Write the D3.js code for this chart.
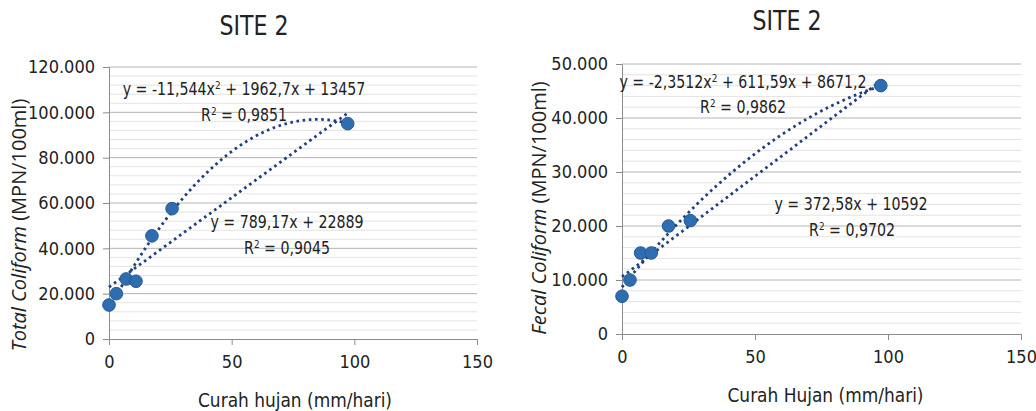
<!DOCTYPE html>
<html>
<head>
<meta charset="utf-8">
<script src="https://cdn.jsdelivr.net/npm/d3@7"></script>
<style>
  body { margin: 0; background: #fff; }
  svg text { font-family: "DejaVu Sans", sans-serif; fill: #222; }
</style>
</head>
<body>
<div class="chart-container"></div>
<script>
// Rainfall (x) shared by both panels
const rainfall = [0, 3, 7, 11, 17.5, 25.7, 97.3];
// Site 2 measurements
const totalColiform = [15000, 20000, 26500, 25500, 45500, 57500, 95000];
const fecalColiform = [7000, 10000, 15000, 15000, 20000, 21000, 46000];
// Trendline coefficients as printed on the chart
const totalPoly = [-11.544, 1962.7, 13457];
const totalLinear = [789.17, 22889];
const fecalPoly = [-2.3512, 611.59, 8671.2];
const fecalLinear = [372.58, 10592];
// Tick labels
const xTicks = [0, 50, 100, 150];
const totalTicks = [0, 20000, 40000, 60000, 80000, 100000, 120000];
const fecalTicks = [0, 10000, 20000, 30000, 40000, 50000];

const svg = d3.select('.chart-container')
    .append('svg')
    .attr('width', 1036)
    .attr('height', 411);

const fmt = v => v === 0 ? '0' : d3.format(',')(v).replace(/,/g, '.');

function drawPanel(cfg) {
    const x = d3.scaleLinear().domain([0, 150]).range([cfg.left, cfg.right]);
    const y = d3.scaleLinear().domain([0, cfg.yMax]).range([cfg.bottom, cfg.top]);
    const g = svg.append('g');

    // minor gridlines
    const minorStep = cfg.yStep / 5;
    const minor = d3.range(0, cfg.yMax + 1, minorStep).filter(v => v % cfg.yStep !== 0);
    g.selectAll('.minor').data(minor).enter().append('line')
        .attr('x1', x(0)).attr('x2', x(150))
        .attr('y1', d => y(d)).attr('y2', d => y(d))
        .attr('stroke', '#e3e3e3').attr('stroke-width', 1);

    // major gridlines
    g.selectAll('.major').data(cfg.yTicks.filter(v => v > 0)).enter().append('line')
        .attr('x1', x(0)).attr('x2', x(150))
        .attr('y1', d => y(d)).attr('y2', d => y(d))
        .attr('stroke', '#b4b4b4').attr('stroke-width', 1);

    // Y axis
    const yAxis = g.append('g')
        .attr('transform', `translate(${x(0)},0)`)
        .call(d3.axisLeft(y).tickValues(cfg.yTicks).tickFormat(fmt).tickSize(6).tickPadding(8));
    yAxis.select('.domain').attr('stroke', '#8c8c8c');
    yAxis.selectAll('line').attr('stroke', '#8c8c8c');
    yAxis.selectAll('text').style('font-size', '18px').style('font-stretch', 'condensed').attr('fill', '#222');

    // X axis
    const xAxis = g.append('g')
        .attr('transform', `translate(0,${y(0)})`)
        .call(d3.axisBottom(x).tickValues(xTicks).tickSize(6).tickPadding(10));
    xAxis.select('.domain').attr('stroke', '#8c8c8c');
    xAxis.selectAll('line').attr('stroke', '#8c8c8c');
    xAxis.selectAll('text').style('font-size', '18px').style('font-stretch', 'condensed').attr('fill', '#222');

    // trendlines
    const xs = d3.range(0, 1.0001, 0.01).map(t => d3.min(rainfall) + t * (d3.max(rainfall) - d3.min(rainfall)));
    const line = d3.line().x(d => x(d[0])).y(d => y(d[1]));
    const poly = xs.map(v => [v, cfg.poly[0] * v * v + cfg.poly[1] * v + cfg.poly[2]]);
    const lin = xs.map(v => [v, cfg.lin[0] * v + cfg.lin[1]]);
    [poly, lin].forEach(pts => {
        g.append('path').datum(pts)
            .attr('fill', 'none')
            .attr('stroke', '#1f3f7f')
            .attr('stroke-width', 2.8)
            .attr('stroke-dasharray', '2.6,3.6')
            .attr('d', line);
    });

    // points
    g.selectAll('.pt').data(rainfall.map((r, i) => [r, cfg.values[i]])).enter().append('circle')
        .attr('cx', d => x(d[0])).attr('cy', d => y(d[1]))
        .attr('r', 6.3)
        .attr('fill', '#2e6db0')
        .attr('stroke', '#245a93').attr('stroke-width', 1);

    // equations (narrow, like the original Calibri)
    cfg.labels.forEach(l => {
        const t = g.append('text')
            .attr('transform', `translate(${l.x},${l.y}) scale(0.81,1)`)
            .attr('text-anchor', 'middle')
            .style('font-size', '17.5px');
        l.parts.forEach(p => {
            const ts = t.append('tspan').text(p[0]);
            if (p[1]) ts.attr('dy', -6).style('font-size', '11px');
            else if (p[2]) ts.attr('dy', 6);
        });
    });

    // title
    g.append('text')
        .attr('transform', `translate(${cfg.titleX},${cfg.titleY}) scale(0.85,1)`)
        .attr('text-anchor', 'middle')
        .style('font-size', '26px')
        .text('SITE 2');

    // axis titles
    g.append('text')
        .attr('transform', `translate(${(cfg.left + cfg.right) / 2 + cfg.xTitleDx},${cfg.xTitleY}) scale(0.85,1)`)
        .attr('text-anchor', 'middle')
        .style('font-size', '20px')
        .text(cfg.xTitle);

    const yt = g.append('text')
        .attr('transform', `translate(${cfg.yTitleX},${cfg.yTitleY}) rotate(-90)`)
        .attr('text-anchor', 'middle')
        .style('font-family', '"Open Sans", sans-serif')
        .style('font-size', cfg.yTitleSize + 'px');
    yt.append('tspan').style('font-style', 'italic').text(cfg.yTitleItalic);
    yt.append('tspan').text(' (MPN/100ml)');
}

drawPanel({
    left: 109, right: 477, top: 67, bottom: 339,
    yMax: 120000, yStep: 20000, yTicks: totalTicks,
    values: totalColiform, poly: totalPoly, lin: totalLinear,
    labels: [
        { x: 244, y: 95, parts: [['y = -11,544x'], ['2', true], [' + 1962,7x + 13457', false, true]] },
        { x: 244, y: 121, parts: [['R'], ['2', true], [' = 0,9851', false, true]] },
        { x: 287, y: 228, parts: [['y = 789,17x + 22889']] },
        { x: 287, y: 254, parts: [['R'], ['2', true], [' = 0,9045', false, true]] }
    ],
    titleX: 254, titleY: 35,
    xTitle: 'Curah hujan (mm/hari)', xTitleDx: 2, xTitleY: 407,
    yTitleItalic: 'Total Coliform', yTitleX: 26, yTitleY: 225, yTitleSize: 20
});

drawPanel({
    left: 622, right: 1021, top: 64, bottom: 334,
    yMax: 50000, yStep: 10000, yTicks: fecalTicks,
    values: fecalColiform, poly: fecalPoly, lin: fecalLinear,
    labels: [
        { x: 743, y: 88, parts: [['y = -2,3512x'], ['2', true], [' + 611,59x + 8671,2', false, true]] },
        { x: 743, y: 113, parts: [['R'], ['2', true], [' = 0,9862', false, true]] },
        { x: 851, y: 210, parts: [['y = 372,58x + 10592']] },
        { x: 852, y: 236, parts: [['R'], ['2', true], [' = 0,9702', false, true]] }
    ],
    titleX: 787, titleY: 30,
    xTitle: 'Curah Hujan (mm/hari)', xTitleDx: 4, xTitleY: 402,
    yTitleItalic: 'Fecal Coliform', yTitleX: 546, yTitleY: 208, yTitleSize: 20
});
</script>
</body>
</html>
